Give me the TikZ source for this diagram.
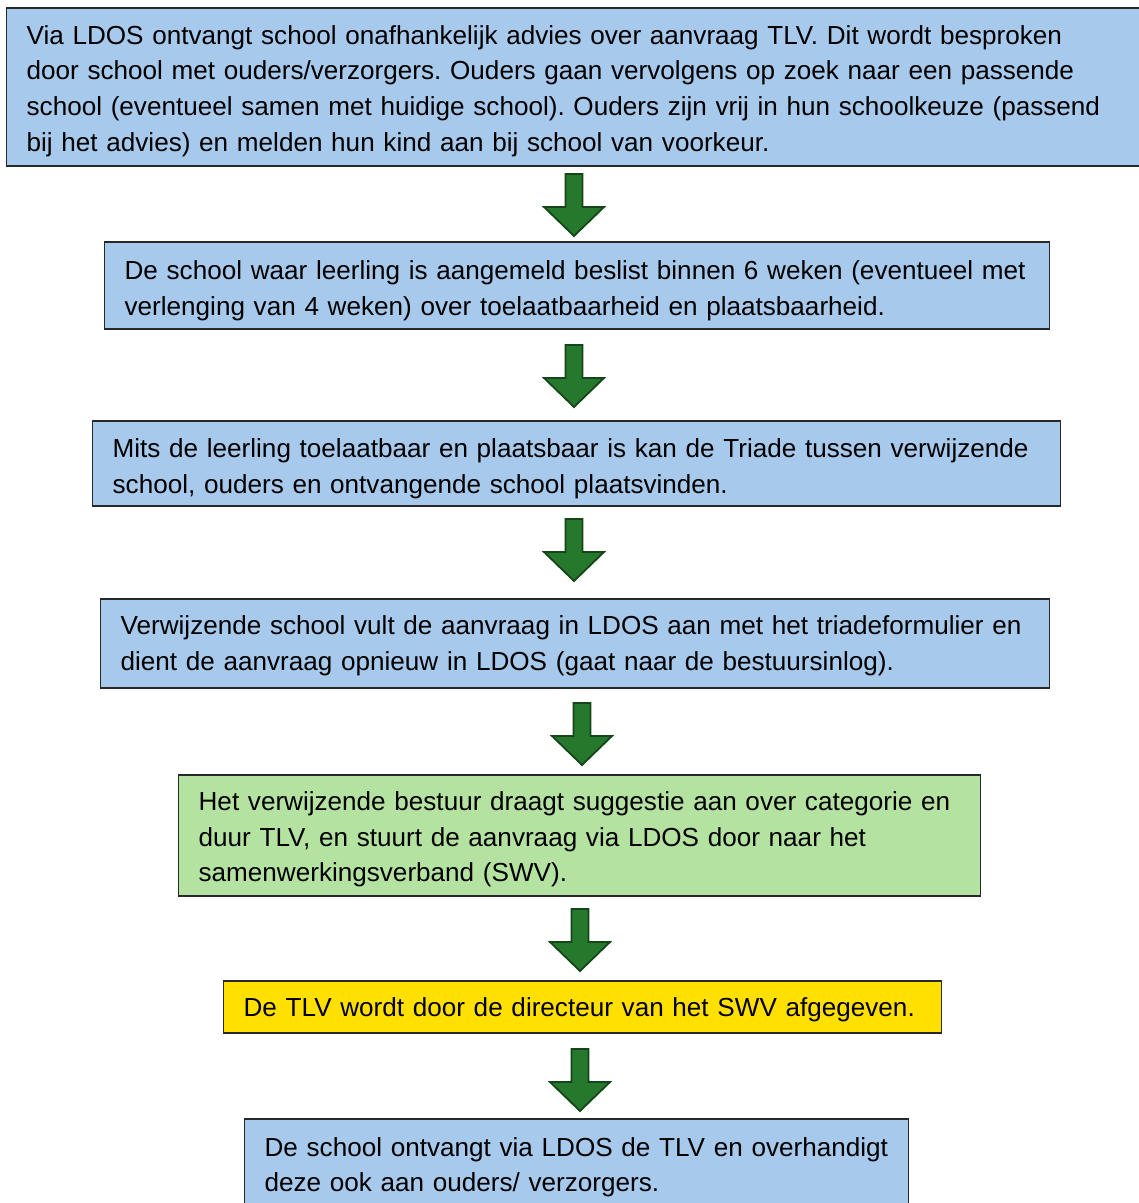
\documentclass[tikz,border=0pt]{standalone}
\usepackage{fontspec}
\setmainfont{Liberation Sans}
\frenchspacing
\definecolor{boxblue}{RGB}{166,201,236}
\definecolor{boxgreen}{RGB}{180,226,160}
\definecolor{boxyellow}{RGB}{255,224,0}
\definecolor{boxline}{RGB}{40,40,40}
\definecolor{arrfill}{RGB}{38,120,44}
\definecolor{arrline}{RGB}{20,70,26}
\tikzset{
  box/.style={draw=boxline, line width=1.3pt, anchor=west, align=left,
    inner xsep=20pt, inner ysep=0pt, font=\fontsize{26.1}{35.6}\selectfont},
  drop/.style={execute at begin node={\rule{0pt}{#1}}},
  drop/.default=27pt,
  blockarr/.style={draw=arrline, line width=1.8pt, fill=arrfill, line join=miter},
}
\newcommand{\blockarrow}[1]{%
  \draw[blockarr] (#1) ++(-8.5,0) -- ++(17,0) -- ++(0,-33) -- ++(21.5,0)
    -- ++(-30,-29) -- ++(-30,29) -- ++(21.5,0) -- cycle;}
\newcommand{\tline}[1]{\mbox{#1}}
\begin{document}
\begin{tikzpicture}[x=1pt,y=1pt]
\useasboundingbox (0,0) rectangle (1139,-1203);
\fill[white] (0,0) rectangle (1139,-1203);

\node[box, drop, fill=boxblue, text width=1100pt, minimum height=158pt] (b1) at (6,-87)
 {\tline{Via LDOS ontvangt school onafhankelijk advies over aanvraag TLV. Dit wordt besproken}\\
  \tline{door school met ouders/verzorgers. Ouders gaan vervolgens op zoek naar een passende}\\
  \tline{school (eventueel samen met huidige school). Ouders zijn vrij in hun schoolkeuze (passend}\\
  \tline{bij het advies) en melden hun kind aan bij school van voorkeur.}};

\node[box, drop=29pt, fill=boxblue, text width=905pt, minimum height=87pt] (b2) at (104,-285.5)
 {\tline{De school waar leerling is aangemeld beslist binnen 6 weken (eventueel met}\\
  \tline{verlenging van 4 weken) over toelaatbaarheid en plaatsbaarheid.}};

\node[box, drop=29pt, fill=boxblue, text width=928pt, minimum height=85pt] (b3) at (92,-463.5)
 {\tline{Mits de leerling toelaatbaar en plaatsbaar is kan de Triade tussen verwijzende}\\
  \tline{school, ouders en ontvangende school plaatsvinden.}};

\node[box, drop=23pt, fill=boxblue, text width=909pt, minimum height=89pt] (b4) at (100,-643.5)
 {\tline{Verwijzende school vult de aanvraag in LDOS aan met het triadeformulier en}\\
  \tline{dient de aanvraag opnieuw in LDOS (gaat naar de bestuursinlog).}};

\node[box, drop, fill=boxgreen, text width=762pt, minimum height=121pt] (b5) at (178,-835.5)
 {\tline{Het verwijzende bestuur draagt suggestie aan over categorie en}\\
  \tline{duur TLV, en stuurt de aanvraag via LDOS door naar het}\\
  \tline{samenwerkingsverband (SWV).}};

\node[box, drop=25pt, fill=boxyellow, text width=678pt, minimum height=52pt] (b6) at (223,-1007)
 {\tline{De TLV wordt door de directeur van het SWV afgegeven.}};

\node[box, drop=21pt, fill=boxblue, text width=624pt, minimum height=94pt] (b7) at (244,-1166)
 {\tline{De school ontvangt via LDOS de TLV en overhandigt}\\
  \tline{deze ook aan ouders/ verzorgers.}};

\coordinate (a1) at (574,-174);
\coordinate (a2) at (574,-345);
\coordinate (a3) at (574,-519);
\coordinate (a4) at (582,-703);
\coordinate (a5) at (580,-909);
\coordinate (a6) at (580,-1049);
\blockarrow{a1}
\blockarrow{a2}
\blockarrow{a3}
\blockarrow{a4}
\blockarrow{a5}
\blockarrow{a6}
\end{tikzpicture}
\end{document}
